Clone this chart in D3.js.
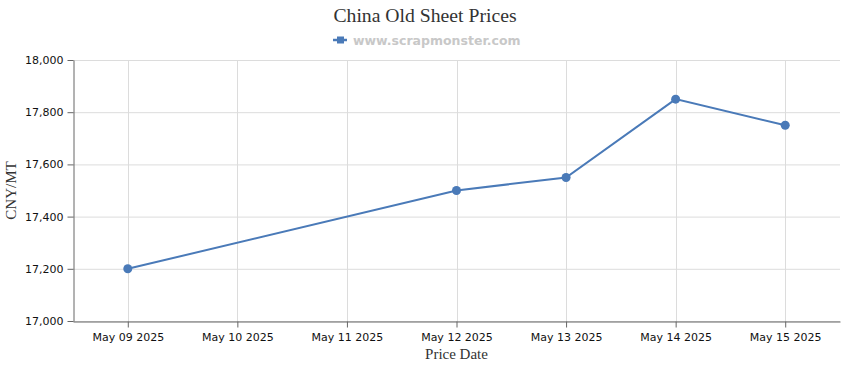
<!DOCTYPE html>
<html>
<head>
<meta charset="utf-8">
<script src="https://cdn.jsdelivr.net/npm/d3@7"></script>
<style>
  body { margin: 0; background: #fff; }
  .tick text { font-family: "DejaVu Sans", sans-serif; font-size: 11px; fill: #111; }
</style>
</head>
<body>
<svg id="chart" width="850" height="370"></svg>
<script>
// chart data
const dates = ['May 09 2025', 'May 10 2025', 'May 11 2025', 'May 12 2025', 'May 13 2025', 'May 14 2025', 'May 15 2025'];
const priceDates = ['May 09 2025', 'May 12 2025', 'May 13 2025', 'May 14 2025', 'May 15 2025'];
const prices = [17200, 17500, 17550, 17850, 17750];
const yTicks = [17000, 17200, 17400, 17600, 17800, 18000];

const width = 850, height = 370;
const margin = { top: 60, right: 10, bottom: 49, left: 73 };
const lineColor = '#4a7ab8';

const svg = d3.select('#chart');

const x = d3.scalePoint().domain(dates).range([margin.left, width - margin.right]).padding(0.5);
const y = d3.scaleLinear().domain([17000, 18000]).range([height - margin.bottom, margin.top]);

// grid
svg.append('g')
  .selectAll('line.h').data(yTicks).enter().append('line')
  .attr('x1', margin.left).attr('x2', width - margin.right)
  .attr('y1', d => y(d) + 0.5).attr('y2', d => y(d) + 0.5)
  .attr('stroke', '#dcdcdc');
svg.append('g')
  .selectAll('line.v').data(dates).enter().append('line')
  .attr('x1', d => Math.round(x(d)) + 0.5).attr('x2', d => Math.round(x(d)) + 0.5)
  .attr('y1', margin.top).attr('y2', height - margin.bottom)
  .attr('stroke', '#dcdcdc');

// axes
const yAxis = svg.append('g')
  .attr('transform', `translate(${margin.left + 0.5},0)`)
  .call(d3.axisLeft(y).tickValues(yTicks).tickFormat(d3.format(',')).tickSizeOuter(0).tickPadding(4));
const xAxis = svg.append('g')
  .attr('transform', `translate(0,${height - margin.bottom + 0.5})`)
  .call(d3.axisBottom(x).tickSizeOuter(0).tickPadding(6));
[yAxis, xAxis].forEach(a => {
  a.select('.domain').attr('stroke', '#666');
  a.selectAll('.tick line').attr('stroke', '#666');
});

// line + points
const pts = priceDates.map((d, i) => ({ d: d, v: prices[i] }));
svg.append('path')
  .datum(pts)
  .attr('fill', 'none')
  .attr('stroke', lineColor)
  .attr('stroke-width', 2)
  .attr('d', d3.line().x(p => x(p.d)).y(p => y(p.v)));
svg.append('g')
  .selectAll('circle').data(pts).enter().append('circle')
  .attr('cx', p => x(p.d)).attr('cy', p => y(p.v))
  .attr('r', 4.5)
  .attr('fill', lineColor);

// titles
svg.append('text')
  .text('China Old Sheet Prices')
  .attr('x', width / 2).attr('y', 22)
  .style('font-family', '"Liberation Serif", serif')
  .style('font-size', '19.7px')
  .style('fill', '#333')
  .style('text-anchor', 'middle');

const legend = svg.append('g').attr('transform', 'translate(333,40)');
legend.append('line').attr('x1', 0).attr('x2', 14).attr('y1', 0).attr('y2', 0)
  .attr('stroke', lineColor).attr('stroke-width', 2.5);
legend.append('rect').attr('x', 4).attr('y', -3.5).attr('width', 7).attr('height', 7).attr('fill', lineColor);
legend.append('text')
  .text('www.scrapmonster.com')
  .attr('x', 20).attr('y', 4.5)
  .style('font-family', '"DejaVu Sans", sans-serif')
  .style('font-size', '12.5px')
  .style('font-weight', 'bold')
  .style('fill', '#c8c8c8');

svg.append('text')
  .text('CNY/MT')
  .attr('transform', `translate(16,${(margin.top + height - margin.bottom) / 2}) rotate(-90)`)
  .style('font-family', '"Liberation Serif", serif')
  .style('font-size', '15px')
  .style('fill', '#333')
  .style('text-anchor', 'middle');

svg.append('text')
  .text('Price Date')
  .attr('x', (margin.left + width - margin.right) / 2).attr('y', 359)
  .style('font-family', '"Liberation Serif", serif')
  .style('font-size', '15px')
  .style('fill', '#333')
  .style('text-anchor', 'middle');
</script>
</body>
</html>
